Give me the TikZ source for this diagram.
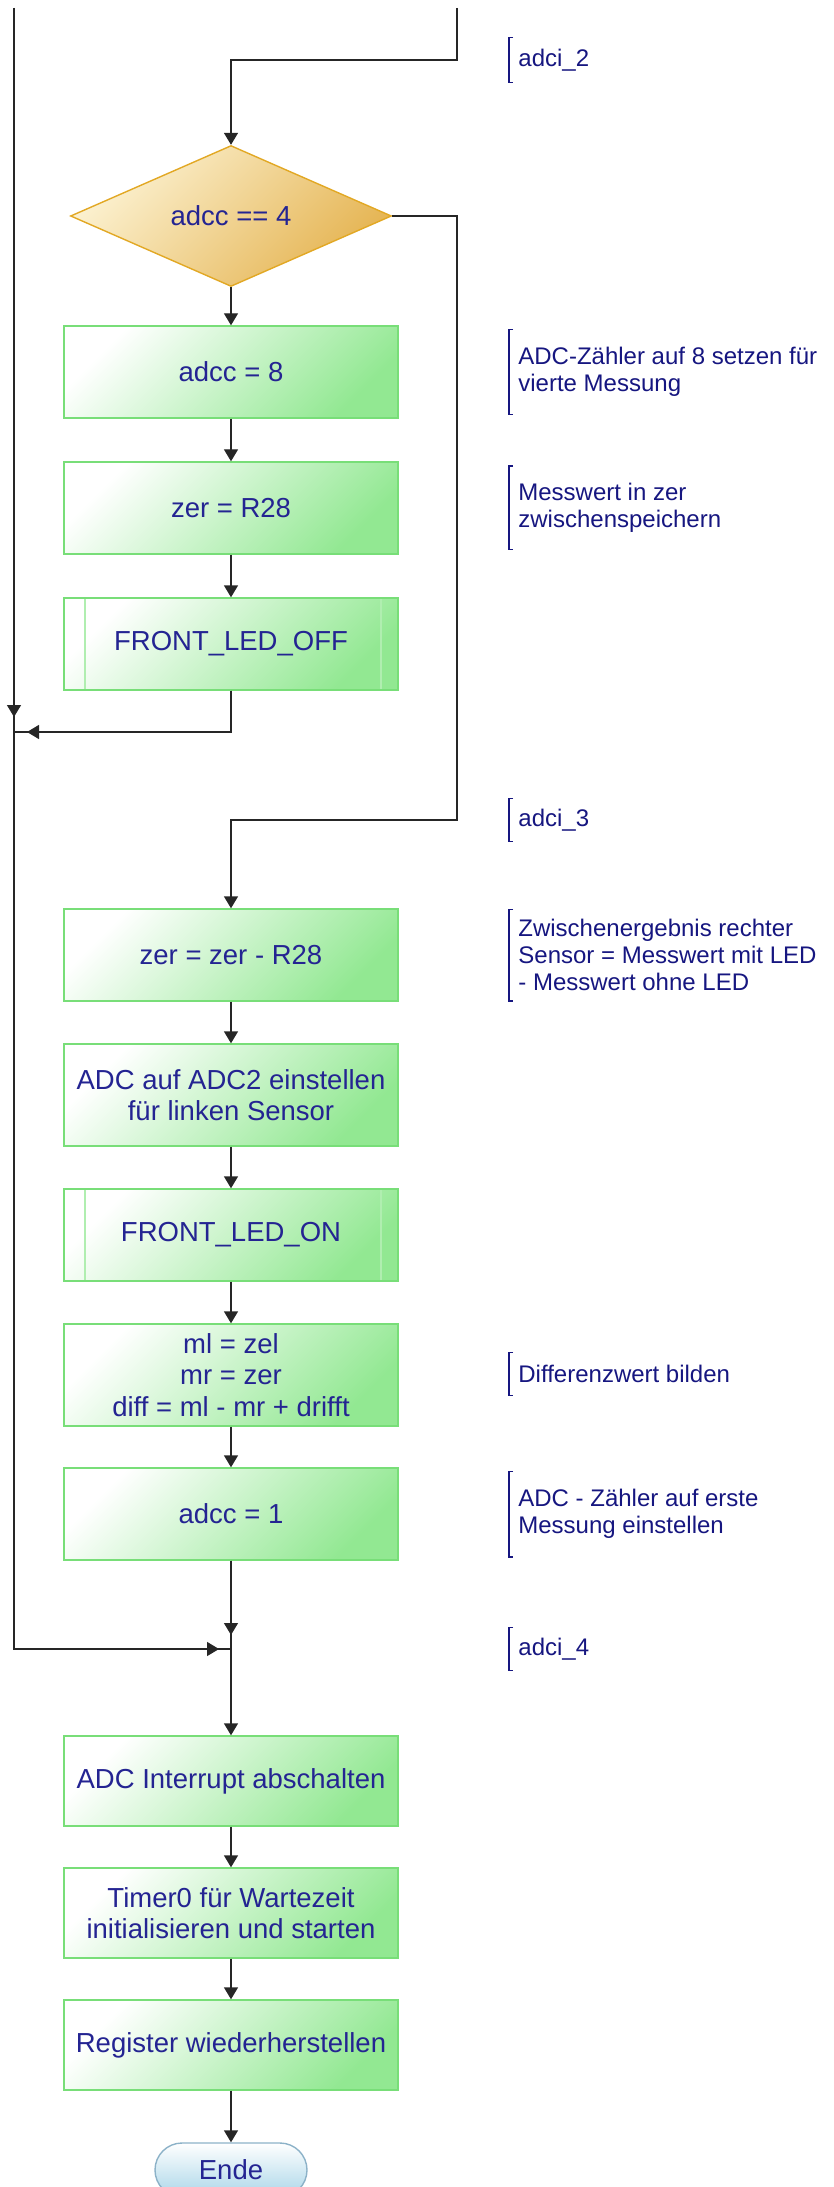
\documentclass[tikz,border=0pt]{standalone}
\usepackage{fontspec}
\setmainfont{Liberation Sans}
\usetikzlibrary{arrows.meta,positioning,calc,shapes.geometric,shadows}
\definecolor{pgreen}{RGB}{146,232,146}
\definecolor{pgreenline}{RGB}{120,222,120}
\definecolor{pgreensub}{RGB}{176,238,176}
\definecolor{pgold}{RGB}{229,180,82}
\definecolor{pgoldlight}{RGB}{252,242,210}
\definecolor{pgoldline}{RGB}{226,168,36}
\definecolor{pblue}{RGB}{170,214,232}
\definecolor{pblueline}{RGB}{140,178,200}
\definecolor{ptext}{RGB}{36,36,146}
\definecolor{pnote}{RGB}{22,22,128}

\begin{document}
\begin{tikzpicture}[x=0.5pt, y=-0.5pt,
  font=\fontsize{13.75}{15.8}\selectfont,
  box/.style={draw=pgreenline, line width=0.7pt, top color=white, bottom color=pgreen,
              shading angle=45, minimum width=167pt, minimum height=46pt,
              text=ptext, align=center, inner sep=2pt,
              drop shadow={shadow xshift=0.6pt, shadow yshift=-0.7pt, fill=black!35, opacity=1}},
  sub/.style={box, path picture={
      \draw[pgreensub, line width=0.8pt]
        ([xshift=10.5pt]path picture bounding box.north west) -- ([xshift=10.5pt]path picture bounding box.south west)
        ([xshift=-8.5pt]path picture bounding box.north east) -- ([xshift=-8.5pt]path picture bounding box.south east);}},
  dec/.style={diamond, draw=pgoldline, line width=0.7pt, top color=pgoldlight, bottom color=pgold,
              shading angle=45, minimum width=160.5pt, minimum height=66.5pt,
              text=ptext, inner sep=0pt},
  term/.style={draw=pblueline, line width=0.7pt, rounded corners=13.5pt, top color=white,
               bottom color=pblue, minimum width=76pt, minimum height=27pt, text=ptext},
  note/.style={anchor=west, align=left, text=pnote, inner xsep=4.5pt, inner ysep=0pt,
               font=\fontsize{12}{13.5}\selectfont},
  brk/.style={pnote, line width=0.6pt},
  flow/.style={line width=0.7pt, black!85},
  tip/.style={flow, -{Triangle[length=6pt,width=7pt]}}]
\useasboundingbox (0,0) rectangle (834,2187);

% main column
\node[dec]  (dc)   at (231,216)  {adcc == 4};
\node[box]  (b8)   at (231,372)  {adcc = 8};
\node[box]  (zr)   at (231,508)  {zer = R28};
\node[sub]  (off)  at (231,644)  {FRONT\_LED\_OFF};
\node[box]  (zd)   at (231,955)  {zer = zer - R28};
\node[box, minimum height=51pt] (adc2) at (231,1095) {ADC auf ADC2 einstellen\\f\"ur linken Sensor};
\node[sub]  (on)   at (231,1235) {FRONT\_LED\_ON};
\node[box, minimum height=51pt] (ml) at (231,1375) {ml = zel\\mr = zer\\diff = ml - mr + drifft};
\node[box]  (a1)   at (231,1514) {adcc = 1};
\node[box, minimum height=45pt] (irq) at (231,1781) {ADC Interrupt abschalten};
\node[box, minimum height=45pt] (tim) at (231,1913) {Timer0 f\"ur Wartezeit\\initialisieren und starten};
\node[box, minimum height=45pt] (reg) at (231,2045) {Register wiederherstellen};
\node[term] (ende) at (231,2170) {Ende};

% junctions
\coordinate (tl) at (14,8);
\coordinate (tr) at (457,8);
\coordinate (r3) at (457,820);
\coordinate (j1) at (14,732);
\coordinate (j2) at (231,1649);

% connectors
\draw[tip] (tr) -- ++(0,52) -| (dc.north);
\draw[tip] (dc.south) -- (b8.north);
\draw[tip] (b8) -- (zr);
\draw[tip] (zr) -- (off);
\draw[flow] (off.south) |- (j1);
\draw[tip] (off.south) |- ([xshift=6.5pt]j1);
\draw[tip] (dc.east) -| (r3) -| (zd.north);
\draw[tip] (zd) -- (adc2);
\draw[tip] (adc2) -- (on);
\draw[tip] (on) -- (ml);
\draw[tip] (ml) -- (a1);
\draw[flow] (a1.south) -- (j2);
\draw[tip] (a1.south) -- ([yshift=7pt]j2);
\draw[flow] (tl) |- (j2);
\draw[tip] (tl) -- ([yshift=7.5pt]j1);
\draw[tip] (j1) |- ([xshift=-6pt]j2);
\draw[tip] (j2) -- (irq.north);
\draw[tip] (irq) -- (tim);
\draw[tip] (tim) -- (reg);
\draw[tip] (reg) -- (ende);

% comments
\node[note, minimum height=22pt]   (n2)  at (509,60)   {adci\_2};
\node[note, minimum height=42pt]   (n8)  at (509,372)  {ADC-Z\"ahler auf 8 setzen f\"ur\\vierte Messung};
\node[note, minimum height=41.5pt] (nzr) at (509,508)  {Messwert in zer\\zwischenspeichern};
\node[note, minimum height=21pt]   (n3)  at (509,820)  {adci\_3};
\node[note, minimum height=45.5pt] (nzd) at (509,955)  {Zwischenergebnis rechter\\Sensor = Messwert mit LED\\- Messwert ohne LED};
\node[note, minimum height=21pt]   (nml) at (509,1374) {Differenzwert bilden};
\node[note, minimum height=42.5pt] (na1) at (509,1514) {ADC - Z\"ahler auf erste\\Messung einstellen};
\node[note, minimum height=21pt]   (n4)  at (509,1649) {adci\_4};
\foreach \n in {n2,n8,nzr,n3,nzd,nml,na1,n4}
  \draw[brk] ([xshift=2pt]\n.north west) -- (\n.north west) -- (\n.south west) -- ([xshift=2pt]\n.south west);
\end{tikzpicture}
\end{document}
